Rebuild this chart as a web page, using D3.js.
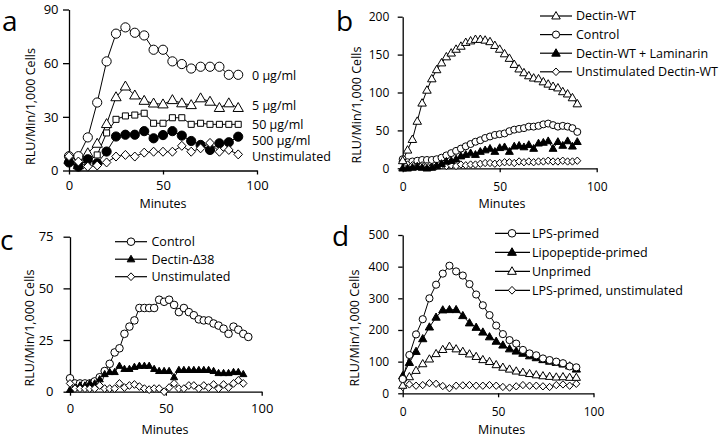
<!DOCTYPE html>
<html><head><meta charset="utf-8">
<script src="https://cdn.jsdelivr.net/npm/d3@7"></script>
<style>
body{margin:0;background:#fff}
svg{display:block}
text{font-family:"Open Sans",sans-serif;fill:#000}
</style>
</head><body>
<svg id="chart" width="720" height="437"></svg>
<script>
// ---------- DATA ----------
const xTickValues = [0, 50, 100];

// Panel a
const aYTicks = [0, 30, 60, 90];
const aMinutes = [0,5,10,15,20,25,30,35,40,45,50,55,60,65,70,75,80,85,90];
const a0 = [8,8,18.5,38,61,76.5,80,77,75.5,67.5,67.5,61,59.5,57,58,58,58,53.5,53.5];
const a5 = [6,3,9.7,15,26,41,47,42,39,37.5,37,39.4,37.6,36.6,40.4,38.5,35,37.6,35];
const a50 = [6,4,5,8.7,21,28.6,30.5,31,32,26.4,26.4,29.5,29.5,25.8,26.4,25.8,25.8,25.8,25.8];
const a500 = [4.5,2.2,6.3,4,10.6,19,20,20,22,18,19.8,22,19.5,16.5,14.3,11.5,15.2,15.8,18.9];
const aUnstim = [8,5,2.2,2.8,4.5,7.8,8.7,7.8,10,10.5,10.5,10.5,13.8,10.5,12.4,15.4,10.5,11.5,9];
const aLabels = ["0 µg/ml", "5 µg/ml", "50 µg/ml", "500 µg/ml", "Unstimulated"];

// Panel b
const bYTicks = [0, 50, 100, 150, 200];
const bMinutes = [0,2.5,5,7.5,10,12.5,15,17.5,20,22.5,25,27.5,30,32.5,35,37.5,40,42.5,45,47.5,50,52.5,55,57.5,60,62.5,65,67.5,70,72.5,75,77.5,80,82.5,85,87.5,90];
const bDectinWT = [10,24,38,62,86,103,118,130,139,147,152,157,161,166,168,170,170,169,167,162,157,151,145,137,131,126,122,119,118,114,111,108,106,101,98,93,85];
const bControl = [12,8,9,10,11,11,11,12,14,17,20,23,26,29,32,35,37,40,42,44,45,46,49,51,52,53,55,55,56,58,59,57,55,56,55,53,48];
const bLaminarin = [0,0,1,2,1,0,1,3,6,9,10,12,16,18,20,18,22,24,26,22,27,28,22,29,30,28,31,26,33,34,36,26,35,30,36,29,35];
const bUnstim = [9,5,4,3,4,3,2,3,4,3,4,3,5,4,5,5,6,7,7,6,7,8,8,7,9,8,9,8,9,9,10,9,9,10,9,9,10];
const bLabels = ["Dectin-WT", "Control", "Dectin-WT + Laminarin", "Unstimulated Dectin-WT"];

// Panel c
const cYTicks = [0, 25, 50, 75];
const cMinutes = [0,2.6,5.2,7.8,10.3,12.9,15.5,18.1,20.7,23.3,25.8,28.4,31,33.6,36.2,38.8,41.3,43.9,46.5,49.1,51.7,54.3,56.8,59.4,62,64.6,67.2,69.8,72.3,74.9,77.5,80.1,82.7,85.3,87.8,90.4,93];
const cControl = [6.5,4,4,4,4,5,7,10,13.5,19,21,28,31.5,34.5,40.5,40.5,40.5,40.5,44.5,43.5,44.5,42,38.5,40.5,38.5,37,35,34.5,34.5,33,32,30.5,28,31.5,30,28,26.5];
const cDelta38 = [1,2,3,3,4,4,6,8.5,9.5,9.5,12.5,11,11,12,12.5,12.5,12.5,11,10,10,10,7,10.5,10.5,10.5,10.5,10.5,10.5,10.5,10,9,9,9,9.5,9.5,8.5];
const cUnstim = [4,1.5,1.5,1.5,1.5,1.5,3,1.5,1.5,1.5,4,2,3,3.5,2.5,1.5,1,1.5,1.5,0,2,4,1.5,1.5,3,3,1.5,3,2,3.5,1.5,3.5,2,4,5.5,4];
const cLabels = ["Control", "Dectin-Δ38", "Unstimulated"];

// Panel d
const dYTicks = [0, 100, 200, 300, 400, 500];
const dMinutes = [0,3.5,7,10.5,14,17.5,21,24.5,28,31.5,35,38.5,42,45.5,49,52.5,56,59.5,63,66.5,70,73.5,77,80.5,84,87.5,91];
const dLPS = [45,121,186,234,300,343,378,403,385,372,345,312,278,247,214,187,168,157,137,126,120,110,105,100,95,85,82];
const dLipo = [55,97,132,172,209,240,263,264,264,245,222,208,193,178,164,152,140,133,126,118,112,106,101,97,92,86,76];
const dUnprimed = [25,52,72,93,108,125,138,148,140,132,124,116,106,100,90,82,76,70,66,62,58,55,53,51,52,50,50];
const dUnstim = [20,28,24,26,32,30,23,16,24,25,26,24,24,26,24,20,18,22,26,24,24,22,20,26,28,24,30];
const dLabels = ["LPS-primed", "Lipopeptide-primed", "Unprimed", "LPS-primed, unstimulated"];

// ---------- DRAWING ----------
const svg = d3.select("#chart");

function markerPath(shape, r) {
  const p = d3.path();
  if (shape === "circle") {
    p.moveTo(r, 0); p.arc(0, 0, r, 0, 2 * Math.PI);
  } else if (shape === "triangle") {
    const w = r * 1.12, h = r * 1.95;
    p.moveTo(0, -h * 0.6); p.lineTo(w, h * 0.4); p.lineTo(-w, h * 0.4); p.closePath();
  } else if (shape === "square") {
    const s = r * 0.72;
    p.rect(-s, -s, 2 * s, 2 * s);
  } else if (shape === "diamond") {
    const w = r * 1.0, h = r * 1.05;
    p.moveTo(0, -h); p.lineTo(w, 0); p.lineTo(0, h); p.lineTo(-w, 0); p.closePath();
  }
  return p.toString();
}

const panels = [
  { id: "a", letter: { x: 2, y: 31 },
    x0: 69, x1: 257, yTop: 9.5, yBot: 170.5, yMax: 90, yTicks: aYTicks,
    yTickSize: 6, yTickPad: 4.5, xTickSize: 4, xTickPad: 6, tickFont: 13,
    yTitle: { x: 34.5, y: 106.5 }, xTitle: { x: 163, y: 207.5 },
    series: [
      { t: aMinutes, v: a0, shape: "circle", fill: "#fff", r: 4.6 },
      { t: aMinutes, v: a5, shape: "triangle", fill: "#fff", r: 4.6 },
      { t: aMinutes, v: a50, shape: "square", fill: "#fff", r: 4.2 },
      { t: aMinutes, v: a500, shape: "circle", fill: "#000", r: 4.6 },
      { t: aMinutes, v: aUnstim, shape: "diamond", fill: "#fff", r: 4.3 }
    ],
    endLabels: { x: 252, ys: [80.2, 110.2, 128.5, 145.2, 160.8], texts: aLabels }
  },
  { id: "b", letter: { x: 336, y: 31 },
    x0: 402.7, x1: 596.7, yTop: 16.7, yBot: 168.3, yMax: 200, yTicks: bYTicks,
    yTickSize: 5, yTickPad: 8.4, xTickSize: 4, xTickPad: 10, tickFont: 12,
    yTitle: { x: 360.5, y: 105 }, xTitle: { x: 502, y: 207.7 },
    series: [
      { t: bMinutes, v: bControl, shape: "circle", fill: "#fff", r: 3.5 },
      { t: bMinutes, v: bUnstim, shape: "diamond", fill: "#fff", r: 3.5 },
      { t: bMinutes, v: bLaminarin, shape: "triangle", fill: "#000", r: 3.5 },
      { t: bMinutes, v: bDectinWT, shape: "triangle", fill: "#fff", r: 3.8 }
    ],
    legend: { lx0: 540, lx1: 572, mx: 556, tx: 576, y0: 16, dy: 18.6,
      items: [ { shape: "triangle", fill: "#fff", r: 3.8 }, { shape: "circle", fill: "#fff", r: 3.6 },
               { shape: "triangle", fill: "#000", r: 3.8 }, { shape: "diamond", fill: "#fff", r: 3.6 } ],
      texts: bLabels }
  },
  { id: "c", letter: { x: 0, y: 250 },
    x0: 70, x1: 261.7, yTop: 236.7, yBot: 391.7, yMax: 75, yTicks: cYTicks,
    yTickSize: 6.5, yTickPad: 10, xTickSize: 4, xTickPad: 8, tickFont: 13,
    yTitle: { x: 33.5, y: 328 }, xTitle: { x: 165, y: 434.4 },
    series: [
      { t: cMinutes, v: cControl, shape: "circle", fill: "#fff", r: 3.8 },
      { t: cMinutes, v: cDelta38, shape: "triangle", fill: "#000", r: 3.2 },
      { t: cMinutes, v: cUnstim, shape: "diamond", fill: "#fff", r: 3.7 }
    ],
    legend: { lx0: 115, lx1: 147, mx: 131, tx: 151.5, y0: 241.7, dy: 17.5,
      items: [ { shape: "circle", fill: "#fff", r: 3.8 }, { shape: "triangle", fill: "#000", r: 3.4 },
               { shape: "diamond", fill: "#fff", r: 3.7 } ],
      texts: cLabels }
  },
  { id: "d", letter: { x: 332, y: 246 },
    x0: 402.7, x1: 593.5, yTop: 235, yBot: 393.3, yMax: 500, yTicks: dYTicks,
    yTickSize: 4.5, yTickPad: 9, xTickSize: 4, xTickPad: 10, tickFont: 12,
    yTitle: { x: 358.5, y: 328 }, xTitle: { x: 501.7, y: 434.4 },
    series: [
      { t: dMinutes, v: dUnstim, shape: "diamond", fill: "#fff", r: 3.5 },
      { t: dMinutes, v: dUnprimed, shape: "triangle", fill: "#fff", r: 3.7 },
      { t: dMinutes, v: dLipo, shape: "triangle", fill: "#000", r: 3.7 },
      { t: dMinutes, v: dLPS, shape: "circle", fill: "#fff", r: 3.6 }
    ],
    legend: { lx0: 495, lx1: 530, mx: 512, tx: 532, y0: 233.3, dy: 19,
      items: [ { shape: "circle", fill: "#fff", r: 3.8 }, { shape: "triangle", fill: "#000", r: 3.9 },
               { shape: "triangle", fill: "#fff", r: 3.9 }, { shape: "diamond", fill: "#fff", r: 3.7 } ],
      texts: dLabels }
  }
];

panels.forEach(p => {
  const g = svg.append("g").attr("class", "panel-" + p.id);
  const x = d3.scaleLinear().domain([0, 100]).range([p.x0, p.x1]);
  const y = d3.scaleLinear().domain([0, p.yMax]).range([p.yBot, p.yTop]);

  // series lines
  const line = d3.line().x(d => x(d[0])).y(d => y(d[1]));
  p.series.forEach(s => {
    const pts = s.v.map((v, i) => [s.t[i], v]);
    g.append("path").attr("d", line(pts))
      .attr("fill", "none").attr("stroke", "#000").attr("stroke-width", 1);
  });

  // axes
  const xa = g.append("g").attr("transform", `translate(0,${p.yBot})`)
    .call(d3.axisBottom(x).tickValues(xTickValues).tickSize(p.xTickSize).tickSizeOuter(0).tickPadding(p.xTickPad));
  const ya = g.append("g").attr("transform", `translate(${p.x0},0)`)
    .call(d3.axisLeft(y).tickValues(p.yTicks).tickSize(p.yTickSize).tickSizeOuter(0).tickPadding(p.yTickPad));
  [xa, ya].forEach(a => {
    a.selectAll("path, line").attr("stroke", "#000").attr("stroke-width", 1.3);
    a.selectAll("text").style("font-family", '"Open Sans", sans-serif')
      .style("font-size", p.tickFont + "px").attr("fill", "#000");
  });

  // markers
  p.series.forEach(s => {
    g.append("g").selectAll("path").data(s.v.map((v, i) => [s.t[i], v])).join("path")
      .attr("d", markerPath(s.shape, s.r))
      .attr("transform", d => `translate(${x(d[0])},${y(d[1])})`)
      .attr("fill", s.fill).attr("stroke", "#000").attr("stroke-width", 1);
  });

  // titles
  g.append("text").attr("transform", `translate(${p.yTitle.x},${p.yTitle.y}) rotate(-90)`)
    .attr("text-anchor", "middle").style("font-size", "12.5px").text("RLU/Min/1,000 Cells");
  g.append("text").attr("x", p.xTitle.x).attr("y", p.xTitle.y)
    .attr("text-anchor", "middle").style("font-size", "12.5px").text("Minutes");
  g.append("text").attr("x", p.letter.x).attr("y", p.letter.y)
    .style("font-size", "28px").text(p.id);

  // end labels (panel a)
  if (p.endLabels) {
    p.endLabels.texts.forEach((t, i) => {
      g.append("text").attr("x", p.endLabels.x).attr("y", p.endLabels.ys[i])
        .style("font-size", "12.5px").text(t);
    });
  }
  // legends
  if (p.legend) {
    const L = p.legend;
    L.texts.forEach((t, i) => {
      const yy = L.y0 + i * L.dy;
      g.append("line").attr("x1", L.lx0).attr("x2", L.lx1).attr("y1", yy).attr("y2", yy)
        .attr("stroke", "#000").attr("stroke-width", 1.2);
      const it = L.items[i];
      g.append("path").attr("d", markerPath(it.shape, it.r))
        .attr("transform", `translate(${L.mx},${yy})`)
        .attr("fill", it.fill).attr("stroke", "#000").attr("stroke-width", 1);
      g.append("text").attr("x", L.tx).attr("y", yy + 4.3)
        .style("font-size", "12.5px").text(t);
    });
  }
});
</script>
</body></html>
